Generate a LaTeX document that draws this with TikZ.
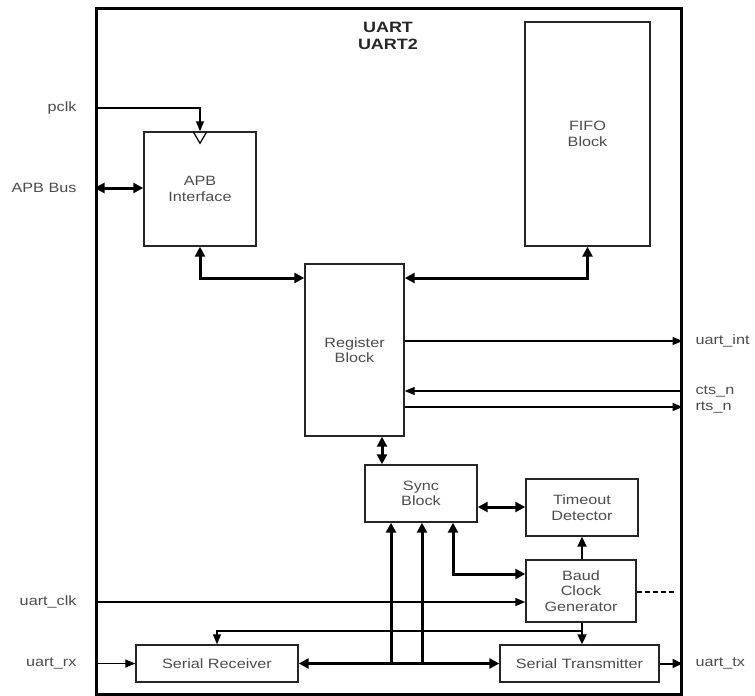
\documentclass[tikz,border=0pt]{standalone}
\usepackage{fontspec}
\setmainfont{Liberation Sans}[FakeStretch=1.2]
\usetikzlibrary{arrows.meta}

\tikzset{
	block/.style={draw=black!85, line width=1.4pt, align=center, text=black!70,
		font=\fontsize{13.5}{15.5}\selectfont},
	sig/.style={line width=1.3pt, >={Triangle[length=10pt,width=8pt]}},
	med/.style={line width=2pt, >={Triangle[length=10pt,width=9pt]}},
	bus/.style={line width=3pt, >={Triangle[length=10pt,width=10pt]}},
	pin/.style={text=black!70, font=\fontsize{13.5}{15.5}\selectfont}
}

\begin{document}
\begin{tikzpicture}[x=1pt, y=-1pt]
		\useasboundingbox (0,0) rectangle (755,696);
		% outer frame and title
		\node[draw, line width=3pt, minimum width=585pt, minimum height=686pt, inner sep=0pt] (UartBox) at (388.5,351) {};
		\node[font=\bfseries\fontsize{15}{17}\selectfont, align=center, text=black!85] (Title) at (388,36) {UART\\UART2};
		
		% blocks
		\node[block, minimum width=112pt, minimum height=114pt] (ApbInterface) at (200,189) {APB\\Interface};
		\node[block, minimum width=125pt, minimum height=224pt] (FifoBlock) at (587.5,134) {FIFO\\Block};
		\node[block, minimum width=99pt, minimum height=172pt] (RegisterBlock) at (354.5,350) {Register\\Block};
		\node[block, minimum width=112pt, minimum height=57pt] (SyncBlock) at (421,493.5) {Sync\\Block};
		\node[block, minimum width=112pt, minimum height=57pt] (TimeoutDetector) at (582,507.5) {Timeout\\Detector};
		\node[block, minimum width=110pt, minimum height=62pt] (BaudClock) at (581,591) {Baud\\Clock\\Generator};
		\node[block, minimum width=162pt, minimum height=37pt] (SerialRx) at (217,663.5) {Serial Receiver};
		\node[block, minimum width=159pt, minimum height=37pt] (SerialTx) at (579.5,663.5) {Serial Transmitter};
		
		% pin labels
		\node[pin, anchor=east] (PclkPin) at (80,108) {pclk};
		\node[pin, anchor=east] (ApbPin) at (80,188) {APB Bus};
		\node[pin, anchor=east] (ClkPin) at (80,602) {uart\_clk};
		\node[pin, anchor=east] (RxPin) at (80,663) {uart\_rx};
		\node[pin, anchor=west] (IntPin) at (692,341) {uart\_int};
		\node[pin, anchor=west] (CtsPin) at (692,391) {cts\_n};
		\node[pin, anchor=west] (RtsPin) at (692,407) {rts\_n};
		\node[pin, anchor=west] (TxPin) at (692,663) {uart\_tx};
		
		% apb side
		\draw[sig, ->] (UartBox.west |- PclkPin) -| (ApbInterface.north);
		\draw[line width=1.2pt] ([xshift=-7pt]ApbInterface.north) -- ([yshift=-12pt]ApbInterface.north) -- ([xshift=7pt]ApbInterface.north);
		\draw[bus, <->] (UartBox.west |- ApbPin) -- (ApbInterface.west |- ApbPin);
		\draw[bus, <->] (ApbInterface.south) |- (RegisterBlock.west |- 0,278);
		\draw[bus, <->] (FifoBlock.south) |- (RegisterBlock.east |- 0,278);
		
		% register outputs
		\draw[sig, ->] (RegisterBlock.east |- IntPin) -- (UartBox.east |- IntPin);
		\draw[sig, ->] (UartBox.east |- CtsPin) -- (RegisterBlock.east |- CtsPin);
		\draw[sig, ->] (RegisterBlock.east |- RtsPin) -- (UartBox.east |- RtsPin);
		\draw[bus, <->] (RegisterBlock.south -| 382,0) -- (SyncBlock.north -| 382,0);
		
		% sync, timeout, baud
		\draw[bus, <->] (SyncBlock.east |- 0,507) -- (TimeoutDetector.west |- 0,507);
		\draw[med, ->] (TimeoutDetector.south |- BaudClock.north) -- (TimeoutDetector.south);
		\draw[bus, <->] (SyncBlock.south -| 453,0) |- (BaudClock.west |- 0,574);
		\draw[sig, ->] (UartBox.west |- ClkPin) -- (BaudClock.west |- ClkPin);
		\coordinate (DashEnd) at (674,592);
		\draw[line width=1.4pt, dash pattern=on 5pt off 3pt] (BaudClock.east |- DashEnd) -- (DashEnd);
		
		% baud clock to rx and tx
		\coordinate (BaudTap) at (582,631);
		\draw[med, ->] (BaudTap |- BaudClock.south) -- (BaudTap |- SerialTx.north);
		\draw[sig, ->] (BaudTap) -| (SerialRx.north);
		
		% serial bus
		\coordinate (BusA) at (391,663.5);
		\coordinate (BusB) at (422,663.5);
		\draw[bus, <->] (SerialRx.east) -- (SerialTx.west);
		\draw[bus, ->] (BusA) -- (BusA |- SyncBlock.south);
		\draw[bus, ->] (BusB) -- (BusB |- SyncBlock.south);
		\draw[sig, ->] (UartBox.west |- SerialRx.west) -- (SerialRx.west);
		\draw[med, ->] (SerialTx.east) -- (UartBox.east |- SerialTx.east);
		
	\end{tikzpicture}
\end{document}
